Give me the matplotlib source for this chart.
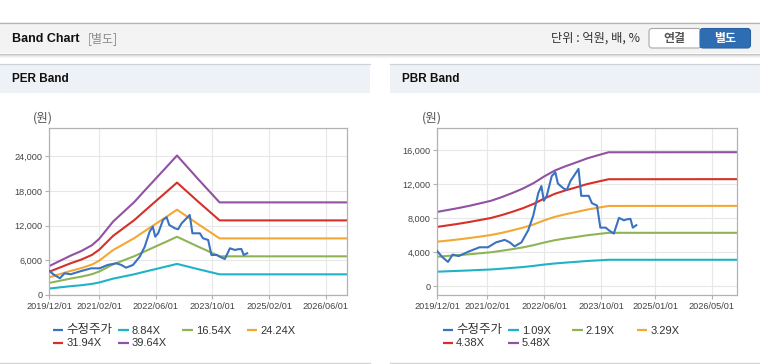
import matplotlib
matplotlib.use('Agg')
import matplotlib.pyplot as plt
import matplotlib.dates as mdates
from matplotlib.patches import Rectangle, FancyBboxPatch
from matplotlib.ticker import FuncFormatter
import pandas as pd

FONT = ['Liberation Sans', 'Noto Sans CJK KR', 'DejaVu Sans']
KFONT = ['Noto Sans CJK KR', 'Liberation Sans', 'DejaVu Sans']
plt.rcParams['font.family'] = FONT

# ---------------- data ----------------
price_label = '수정주가'
price_dates = ['2019-12-01', '2020-01-10', '2020-03-01', '2020-04-10', '2020-06-01', '2020-09-01',
               '2020-11-25', '2021-02-05', '2021-04-15', '2021-06-28', '2021-08-10', '2021-09-20',
               '2021-11-18', '2022-01-15', '2022-02-27', '2022-04-10', '2022-05-07', '2022-05-28',
               '2022-06-22', '2022-08-03', '2022-09-03', '2022-09-25', '2022-11-12', '2022-12-10',
               '2023-01-10', '2023-03-20', '2023-04-12', '2023-06-15', '2023-07-12', '2023-08-25',
               '2023-09-22', '2023-11-07', '2023-12-03', '2024-01-15', '2024-02-28', '2024-04-10',
               '2024-05-06', '2024-06-05', '2024-06-25', '2024-07-25']
price_values = [4150, 3500, 2890, 3750, 3580, 4150, 4610, 4610, 5190, 5480, 5190, 4720,
                5190, 6620, 8350, 10950, 11810, 10080, 10660, 12970, 13430, 12100, 11530, 11360,
                12400, 13830, 10660, 10660, 9800, 9510, 6920, 6920, 6620, 6220, 8070, 7780,
                7900, 7950, 6920, 7210]

per_dates = ['2019-12-01', '2020-03-01', '2020-06-01', '2020-09-01', '2020-12-01', '2021-02-01',
             '2021-06-01', '2021-09-01', '2021-12-01', '2022-03-01', '2022-06-01', '2022-09-01',
             '2022-12-01', '2023-06-01', '2023-12-01', '2026-12-01']
per_labels = ['8.84X', '16.54X', '24.24X', '31.94X', '39.64X']
per_8_84 = [1120, 1320, 1520, 1690, 1920, 2160, 2830, 3210, 3590, 4040, 4480, 4930, 5370, 4460, 3570, 3570]
per_16_54 = [2090, 2460, 2840, 3170, 3590, 4050, 5300, 6010, 6720, 7550, 8390, 9220, 10060, 8350, 6680, 6680]
per_24_24 = [3060, 3610, 4160, 4650, 5260, 5930, 7770, 8810, 9850, 11070, 12290, 13510, 14740, 12230, 9780, 9780]
per_31_94 = [4030, 4750, 5480, 6120, 6930, 7820, 10230, 11600, 12970, 14580, 16200, 17810, 19420, 16120, 12890, 12890]
per_39_64 = [5000, 5900, 6800, 7600, 8600, 9700, 12700, 14400, 16100, 18100, 20100, 22100, 24100, 20000, 16000, 16000]

pbr_dates = ['2019-12-01', '2020-03-01', '2020-06-01', '2020-09-01', '2020-12-01', '2021-03-01',
             '2021-06-01', '2021-09-01', '2021-12-01', '2022-03-01', '2022-06-01', '2022-09-01',
             '2022-12-01', '2023-03-01', '2023-06-01', '2023-09-01', '2023-12-01', '2026-12-01']
pbr_labels = ['1.09X', '2.19X', '3.29X', '4.38X', '5.48X']
pbr_1_09 = [1740, 1790, 1840, 1890, 1950, 2000, 2090, 2190, 2290, 2420, 2580, 2710, 2810, 2900, 3000, 3070, 3140, 3140]
pbr_2_19 = [3500, 3600, 3690, 3790, 3910, 4020, 4200, 4390, 4600, 4860, 5170, 5450, 5650, 5830, 6020, 6170, 6310, 6310]
pbr_3_29 = [5270, 5400, 5540, 5700, 5870, 6050, 6300, 6600, 6920, 7290, 7780, 8200, 8500, 8760, 9040, 9260, 9470, 9480]
pbr_4_38 = [7010, 7190, 7380, 7590, 7820, 8050, 8390, 8780, 9210, 9710, 10350, 10910, 11310, 11660, 12040, 12330, 12610, 12620]
pbr_5_48 = [8770, 9000, 9230, 9490, 9780, 10070, 10500, 10990, 11520, 12150, 12950, 13650, 14150, 14590, 15060, 15430, 15780, 15790]

per_xticks = ['2019-12-01', '2021-02-01', '2022-06-01', '2023-10-01', '2025-02-01', '2026-06-01']
pbr_xticks = ['2019-12-01', '2021-02-01', '2022-06-01', '2023-10-01', '2025-01-01', '2026-05-01']
x_range = ['2019-12-01', '2026-12-01']
per_yticks = [0, 6000, 12000, 18000, 24000]
pbr_yticks = [0, 4000, 8000, 12000, 16000]

price_color = '#3a72c2'
band_colors = ['#1fb3c6', '#8fb455', '#f5a733', '#d5302a', '#9152a2']

# ---------------- figure ----------------
W, H = 760, 364
fig = plt.figure(figsize=(W / 100, H / 100), dpi=100)
fig.patch.set_facecolor('white')

bg = fig.add_axes([0, 0, 1, 1], zorder=-5)
bg.set_xlim(0, W)
bg.set_ylim(H, 0)
bg.axis('off')

# header
bg.add_patch(Rectangle((0, 22), W, 31, facecolor='#f3f3f3', edgecolor='none'))
bg.plot([0, W], [22.5, 22.5], color='#b5b5b5', lw=0.9)
for yy, c in [(53.5, '#c4c4c4'), (54.5, '#dcdcdc'), (55.5, '#ececec'), (56.5, '#f6f6f6')]:
    bg.plot([0, W], [yy, yy], color=c, lw=0.8)
bg.text(12, 38.5, 'Band Chart', fontsize=9, fontweight='bold', color='#111', va='center', ha='left')
bg.text(88, 38.5, '[별도]', fontsize=8.6, color='#8a8a8a', va='center', ha='left', family=KFONT)
bg.text(551, 38.5, '단위 : 억원, 배, %', fontsize=8.8, color='#333', va='center', ha='left', family=KFONT)

# buttons
bg.add_patch(FancyBboxPatch((649, 28.5), 52, 19.5, boxstyle='round,pad=0,rounding_size=3',
                            facecolor='white', edgecolor='#a8a8a8', lw=0.8))
bg.add_patch(FancyBboxPatch((700, 28.5), 50.5, 19.5, boxstyle='round,pad=0,rounding_size=3',
                            facecolor='#2f6db2', edgecolor='#2a63a3', lw=0.8))
bg.add_patch(Rectangle((700, 28.5), 5, 19.5, facecolor='#2f6db2', edgecolor='none'))
bg.text(674.5, 38.5, '연결', fontsize=8.6, fontweight='bold', color='#555', va='center', ha='center', family=KFONT)
bg.text(725, 38.5, '별도', fontsize=8.6, fontweight='bold', color='white', va='center', ha='center', family=KFONT)

# panels
for x0, x1, title in [(0, 370, 'PER Band'), (390, 760, 'PBR Band')]:
    bg.add_patch(Rectangle((x0, 64), x1 - x0, 28.5, facecolor='#eef2f7', edgecolor='none'))
    bg.plot([x0, x1], [64.3, 64.3], color='#cdd3da', lw=0.9)
    bg.plot([x0, x1], [362.5, 362.5], color='#d6d6d6', lw=1.0)
    bg.text(x0 + 12, 79.5, title, fontsize=8.5, fontweight='bold', color='#111', va='center', ha='left')

bg.text(33, 118, '(원)', fontsize=9, color='#555', va='center', ha='left', family=KFONT)
bg.text(421.5, 118, '(원)', fontsize=9, color='#555', va='center', ha='left', family=KFONT)


def style(ax, xticks, yticks, ylim):
    ax.set_xlim(pd.to_datetime(x_range[0]), pd.to_datetime(x_range[1]))
    ax.set_ylim(*ylim)
    ax.set_xticks(pd.to_datetime(xticks))
    ax.xaxis.set_major_formatter(mdates.DateFormatter('%Y/%m/%d'))
    ax.set_yticks(yticks)
    ax.yaxis.set_major_formatter(FuncFormatter(lambda v, p: f'{int(v):,}'))
    for s in ax.spines.values():
        s.set_color('#b2b2b2')
        s.set_linewidth(0.9)
    ax.grid(True, color='#e7e7e7', lw=0.8)
    ax.set_axisbelow(True)
    ax.tick_params(length=3, width=0.8, color='#b2b2b2', labelsize=6.6, labelcolor='#444', pad=2)


def legend(x0, labels):
    cols = [0, 65.5, 129.5, 194]
    rows = [330, 343]
    items = [(price_label, price_color)] + list(zip(labels, band_colors))
    for i, (lab, col) in enumerate(items):
        x = x0 + cols[i % 4]
        y = rows[i // 4]
        bg.plot([x, x + 10.5], [y, y], color=col, lw=1.6, solid_capstyle='butt')
        fs = 9 if i == 0 else 8
        bg.text(x + 13.5, y + 0.5, lab, fontsize=fs, color='#333', va='center', ha='left')


# PER chart
ax1 = fig.add_axes([49.3 / W, 1 - 295 / H, 298 / W, 166.7 / H])
pd_per = pd.to_datetime(per_dates)
for vals, col in zip([per_8_84, per_16_54, per_24_24, per_31_94, per_39_64], band_colors):
    ax1.plot(pd_per, vals, color=col, lw=1.5)
ax1.plot(pd.to_datetime(price_dates), price_values, color=price_color, lw=1.5, zorder=5)
style(ax1, per_xticks, per_yticks, (0, 28800))
legend(52.7, per_labels)

# PBR chart
ax2 = fig.add_axes([437.3 / W, 1 - 295 / H, 299.7 / W, 166.7 / H])
pd_pbr = pd.to_datetime(pbr_dates)
for vals, col in zip([pbr_1_09, pbr_2_19, pbr_3_29, pbr_4_38, pbr_5_48], band_colors):
    ax2.plot(pd_pbr, vals, color=col, lw=1.5)
ax2.plot(pd.to_datetime(price_dates), price_values, color=price_color, lw=1.5, zorder=5)
style(ax2, pbr_xticks, pbr_yticks, (-1000, 18600))
legend(442.7, pbr_labels)

fig.savefig('out.png', dpi=100)
